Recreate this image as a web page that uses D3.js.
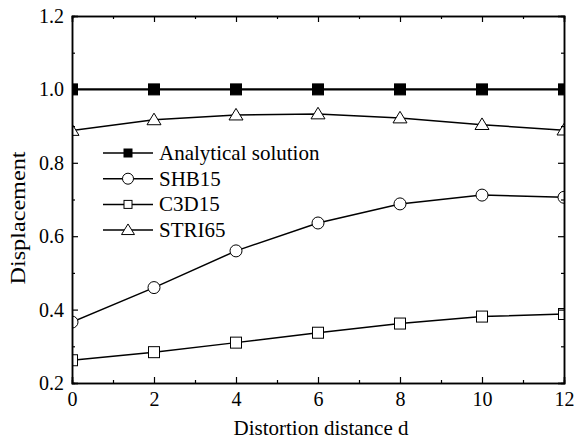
<!DOCTYPE html>
<html>
<head>
<meta charset="utf-8">
<script src="https://cdn.jsdelivr.net/npm/d3@7"></script>
<style>
  body { margin: 0; background: #fff; }
  text { font-family: "Liberation Serif", "Times New Roman", serif; fill: #000; }
</style>
</head>
<body>
<svg id="chart" width="574" height="447"></svg>
<script>
// data
const distances = [0, 2, 4, 6, 8, 10, 12]
const analytical = [1.0, 1.0, 1.0, 1.0, 1.0, 1.0, 1.0]
const shb15 = [0.366, 0.46, 0.56, 0.636, 0.688, 0.712, 0.706]
const c3d15 = [0.262, 0.284, 0.31, 0.337, 0.362, 0.381, 0.388]
const stri65 = [0.888, 0.917, 0.93, 0.933, 0.922, 0.904, 0.889]
const xTicks = [0, 2, 4, 6, 8, 10, 12]
const yTicks = [0.2, 0.4, 0.6, 0.8, 1.0, 1.2]

const series = [
  { name: 'Analytical solution', values: analytical, marker: 'square', fill: '#000', width: 2.2, size: 11, legendSize: 8 },
  { name: 'SHB15', values: shb15, marker: 'circle', fill: '#fff', width: 1.5, size: 12, legendSize: 11 },
  { name: 'C3D15', values: c3d15, marker: 'square', fill: '#fff', width: 1.5, size: 11, legendSize: 8 },
  { name: 'STRI65', values: stri65, marker: 'triangle', fill: '#fff', width: 1.5, size: 12, legendSize: 11 }
]

const margin = { left: 72, top: 16, right: 10, bottom: 64 }
const width = 574 - margin.left - margin.right
const height = 447 - margin.top - margin.bottom

const svg = d3.select('#chart')
const g = svg.append('g').attr('transform', `translate(${margin.left},${margin.top})`)

const x = d3.scaleLinear().domain([0, 12]).range([0, width])
const y = d3.scaleLinear().domain([0.2, 1.2]).range([height, 0])

svg.append('defs').append('clipPath').attr('id', 'plot-clip')
  .append('rect').attr('width', width).attr('height', height)

function drawMarker(sel, type, size, fill) {
  if (type === 'circle') {
    sel.append('circle').attr('r', size / 2)
      .attr('fill', fill).attr('stroke', '#000').attr('stroke-width', 1)
  } else if (type === 'square') {
    sel.append('rect').attr('x', -size / 2).attr('y', -size / 2)
      .attr('width', size).attr('height', size)
      .attr('fill', fill).attr('stroke', '#000').attr('stroke-width', 1)
  } else {
    const h = size * 0.9
    sel.append('path')
      .attr('d', `M0,${-h * 0.62}L${size / 2 + 1},${h * 0.45}L${-size / 2 - 1},${h * 0.45}Z`)
      .attr('fill', fill).attr('stroke', '#000').attr('stroke-width', 1)
  }
}

// lines and markers
const plot = g.append('g').attr('clip-path', 'url(#plot-clip)')
const line = d3.line().x((d, i) => x(distances[i])).y(d => y(d))

series.forEach(s => {
  plot.append('path')
    .attr('d', line(s.values))
    .attr('fill', 'none')
    .attr('stroke', '#000')
    .attr('stroke-width', s.width)
  s.values.forEach((v, i) => {
    const m = plot.append('g').attr('transform', `translate(${x(distances[i])},${y(v)})`)
    drawMarker(m, s.marker, s.size, s.fill)
  })
})

// axes with inward ticks on all four sides
const xMinor = d3.range(1, 12, 2)
const yMinor = d3.range(0.3, 1.2, 0.2)

const axisBottomG = g.append('g').attr('transform', `translate(0,${height})`)
  .call(d3.axisBottom(x).tickValues(xTicks).tickSize(-6).tickPadding(9).tickFormat(d3.format('d')))
axisBottomG.append('g').call(d3.axisBottom(x).tickValues(xMinor).tickSize(-3).tickFormat(''))

const axisTopG = g.append('g')
  .call(d3.axisTop(x).tickValues(xTicks).tickSize(-6).tickFormat(''))
axisTopG.append('g').call(d3.axisTop(x).tickValues(xMinor).tickSize(-3).tickFormat(''))

const axisLeftG = g.append('g')
  .call(d3.axisLeft(y).tickValues(yTicks).tickSize(-6).tickPadding(8).tickFormat(d3.format('.1f')))
axisLeftG.append('g').call(d3.axisLeft(y).tickValues(yMinor).tickSize(-3).tickFormat(''))

const axisRightG = g.append('g').attr('transform', `translate(${width},0)`)
  .call(d3.axisRight(y).tickValues(yTicks).tickSize(-6).tickFormat(''))
axisRightG.append('g').call(d3.axisRight(y).tickValues(yMinor).tickSize(-3).tickFormat(''))

g.selectAll('.domain').attr('stroke', '#000').attr('stroke-width', 1.5)
g.selectAll('.tick line').attr('stroke', '#000').attr('stroke-width', 1.2)
g.selectAll('.tick text')
  .style('font-family', '"Liberation Serif", serif')
  .attr('font-size', 20)
  .attr('fill', '#000')

// axis titles
svg.append('text')
  .attr('x', 321)
  .attr('y', 435)
  .attr('text-anchor', 'middle')
  .attr('font-size', 21)
  .text('Distortion distance d')

svg.append('text')
  .attr('transform', 'translate(25,218) rotate(-90)')
  .attr('text-anchor', 'middle')
  .attr('font-size', 21)
  .attr('textLength', 133)
  .attr('lengthAdjust', 'spacingAndGlyphs')
  .text('Displacement')

// legend
const legend = g.append('g').attr('transform', 'translate(31,137)')
series.forEach((s, i) => {
  const row = legend.append('g').attr('transform', `translate(0,${i * 25.7})`)
  row.append('line').attr('x1', 0).attr('x2', 50)
    .attr('stroke', '#000').attr('stroke-width', 1.5)
  const m = row.append('g').attr('transform', 'translate(25,0)')
  drawMarker(m, s.marker, s.legendSize, s.fill)
  row.append('text').attr('x', 56).attr('y', 0)
    .attr('dominant-baseline', 'central')
    .attr('font-size', 21)
    .text(s.name)
})
</script>
</body>
</html>
